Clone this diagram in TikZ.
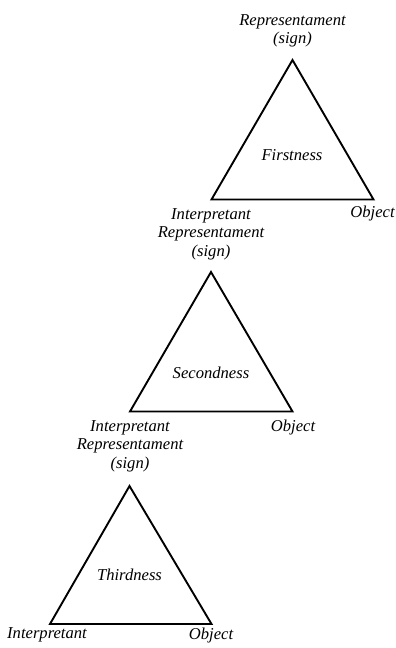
\documentclass[tikz,border=0pt]{standalone}
\usepackage{fontspec}
\setmainfont{Liberation Serif}
\begin{document}
\begin{tikzpicture}[x=1pt,y=-1pt,
  tri/.style={draw=black,line width=1.9pt,line join=miter},
  lbl/.style={font=\fontsize{16.6}{18.5}\selectfont\itshape,inner sep=0pt,align=center,text=black}]
\useasboundingbox (0,0) rectangle (396,648);
% triangle 1
\coordinate (a1) at (292.5,60);
\coordinate (b1) at (211.5,199.5);
\coordinate (c1) at (373.5,199.5);
% triangle 2
\coordinate (a2) at (211,272);
\coordinate (b2) at (130,411.5);
\coordinate (c2) at (292.5,411.5);
% triangle 3
\coordinate (a3) at (129.5,486);
\coordinate (b3) at (50,624);
\coordinate (c3) at (211.5,624);
\draw[tri] (a1) -- (b1) -- (c1) -- cycle;
\draw[tri] (a2) -- (b2) -- (c2) -- cycle;
\draw[tri] (a3) -- (b3) -- (c3) -- cycle;
% labels
\node[lbl] (rep1) at (292.5,31) {Representament\\(sign)};
\node[lbl] (first) at (292,155) {Firstness};
\node[lbl] (obj1) at (372.5,214) {Object};
\node[lbl] (rep2) at (211,234) {Interpretant\\Representament\\(sign)};
\node[lbl] (second) at (211,373) {Secondness};
\node[lbl] (obj2) at (293,428) {Object};
\node[lbl] (rep3) at (130,446) {Interpretant\\Representament\\(sign)};
\node[lbl] (third) at (129.5,575) {Thirdness};
\node[lbl] (int3) at (47,635) {Interpretant};
\node[lbl] (obj3) at (211,635) {Object};
\end{tikzpicture}
\end{document}
